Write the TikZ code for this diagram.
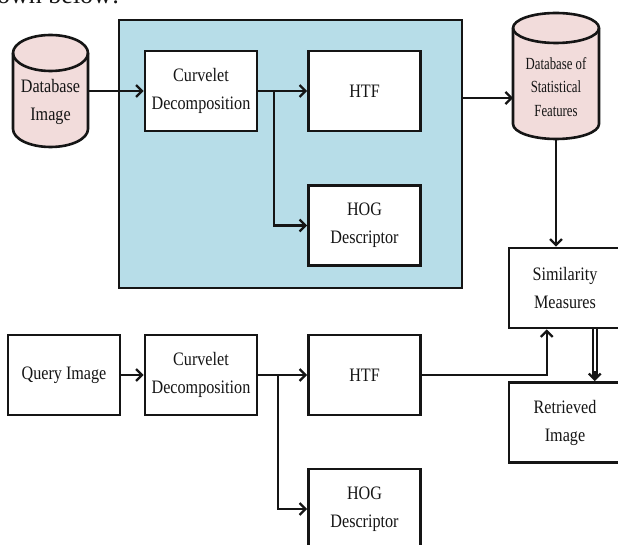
\documentclass[tikz,border=0pt]{standalone}
\usepackage{fontspec}
\setmainfont{Liberation Serif}[FakeStretch=0.85]
\newfontfamily\capfont{Liberation Serif}
\newfontfamily\narrowfont{Liberation Serif}[FakeStretch=0.75]
\usetikzlibrary{arrows.meta,calc}
\definecolor{boxblue}{HTML}{B7DDE8}
\definecolor{dbpink}{HTML}{F2DCDB}
\definecolor{ink}{HTML}{151515}
\begin{document}
\begin{tikzpicture}[x=1pt,y=1pt,
  box/.style={draw=ink, line width=2.6pt, fill=white, minimum width=112pt, minimum height=80pt, inner sep=0pt, align=center, text=ink, font=\fontsize{19}{28}\selectfont},
  arr/.style={draw=ink, line width=2.3pt, -{Straight Barb[length=6pt,width=12pt,line width=2.3pt]}},
  ln/.style={draw=ink, line width=1.8pt},
  cyl/.style={draw=ink, line width=2.6pt, fill=dbpink},
  ghost/.style={inner sep=0pt, outer sep=0pt},
  lbl/.style={align=center, inner sep=0pt, text=ink, font=\fontsize{19}{28}\selectfont}]
\useasboundingbox (0,0) rectangle (618,544);
% cut caption at the top
\node[anchor=base west, inner sep=0pt, text=ink, font=\capfont\fontsize{26}{30}\selectfont] (cap) at (-3,540) {own below:};
% blue frame
\node[draw=ink, line width=2.6pt, fill=boxblue, minimum width=343pt, minimum height=268pt, ghost] (blue) at (290.5,390) {};
% Database Image cylinder
\node[ghost, minimum width=75pt, minimum height=112pt] (db1) at (50.5,453) {};
\path[cyl] (13,491) -- (13,415) arc[start angle=180, end angle=360, x radius=37.5pt, y radius=18pt] -- (88,491) arc[start angle=0, end angle=180, x radius=37.5pt, y radius=18pt] -- cycle;
\draw[draw=ink, line width=2.6pt] (13,491) arc[start angle=180, end angle=360, x radius=37.5pt, y radius=18pt];
\node[lbl] (db1t) at (50.5,442) {Database\\Image};
% Database of Statistical Features cylinder
\node[ghost, minimum width=86pt, minimum height=126pt] (dbs) at (556,468) {};
\path[cyl] (513,516) -- (513,420) arc[start angle=180, end angle=360, x radius=43pt, y radius=15pt] -- (599,516) arc[start angle=0, end angle=180, x radius=43pt, y radius=15pt] -- cycle;
\draw[draw=ink, line width=2.6pt] (513,516) arc[start angle=180, end angle=360, x radius=43pt, y radius=15pt];
\node[lbl, font=\narrowfont\fontsize{17}{23.5}\selectfont] (dbst) at (556,457) {Database of\\Statistical\\Features};
% boxes
\node[box] (cur1) at (201,453) {Curvelet\\Decomposition};
\node[box] (htf1) at (364.5,453) {HTF};
\node[box] (hog1) at (364.5,318.5) {HOG\\Descriptor};
\node[box] (sim) at (565,256) {Similarity\\Measures};
\node[box] (ret) at (565,121.5) {Retrieved\\Image};
\node[box] (query) at (64,169) {Query Image};
\node[box] (cur2) at (201,169) {Curvelet\\Decomposition};
\node[box] (htf2) at (364.5,169) {HTF};
\node[box] (hog2) at (364.5,35) {HOG\\Descriptor};
% connectors
\draw[arr] (db1.east) -- (cur1.west);
\draw[arr] (cur1.east) -- (htf1.west);
\draw[arr] ($(cur1.east)+(16,0)$) |- (hog1.west);
\draw[arr] (blue.east |- 0,446) -- (dbs.west |- 0,446);
\draw[arr] (dbs.south) -- (dbs.south |- sim.north);
\draw[arr] (query.east) -- (cur2.west);
\draw[arr] (cur2.east) -- (htf2.west);
\draw[arr] ($(cur2.east)+(20,0)$) |- (hog2.west);
\draw[arr] (htf2.east) -| ($(sim.south west)+(39,0)$);
\draw[ln] ($(sim.south west)+(85,0)$) -- ($(ret.north west)+(85,3)$);
\draw[ln] ($(sim.south west)+(89,0)$) -- ($(ret.north west)+(89,3)$);
\draw[arr] ($(ret.north west)+(87,10)$) -- ($(ret.north west)+(87,0)$);
\end{tikzpicture}
\end{document}
